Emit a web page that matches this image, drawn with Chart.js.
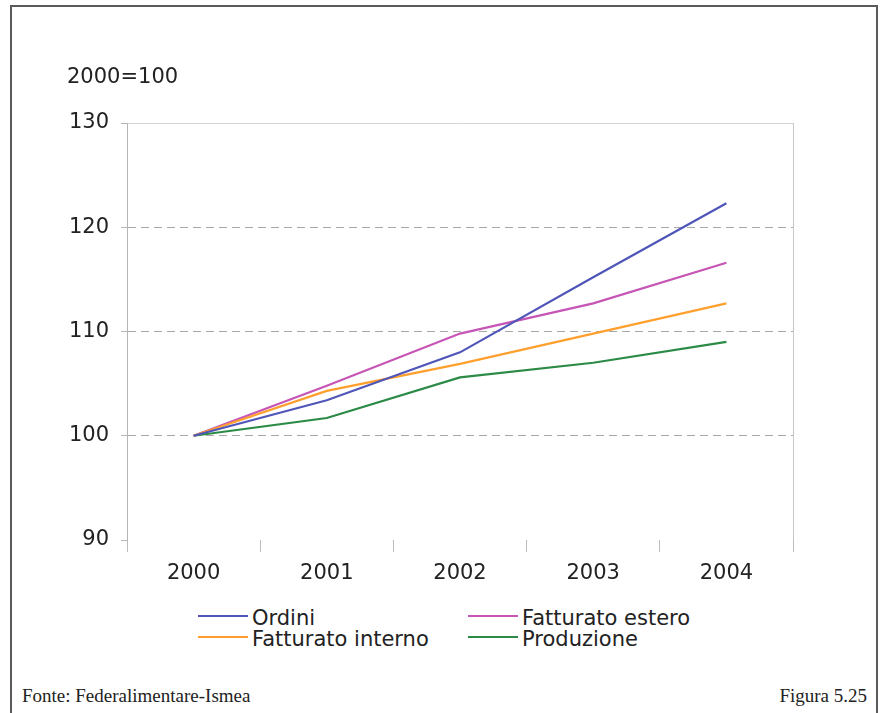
<!DOCTYPE html>
<html>
<head>
<meta charset="utf-8">
<script src="https://cdn.jsdelivr.net/npm/chart.js@4/dist/chart.umd.min.js"></script>
<style>
  body { margin: 0; background: #fff; }
  #wrap { position: relative; width: 885px; height: 713px; overflow: hidden; }
  #frame {
    position: absolute; left: 10px; top: 5px; width: 864px; height: 760px;
    border: 2px solid #5a5a5a; border-bottom: none;
  }
  #chart { position: absolute; left: 0; top: 0; }
  .unit {
    position: absolute; left: 67px; top: 64px;
    font: 21px "DejaVu Sans", sans-serif; color: #222;
  }
  .leg {
    position: absolute; font: 21px "DejaVu Sans", sans-serif; color: #222;
    line-height: 22px; white-space: nowrap;
  }
  .leg span.sw {
    position: absolute; left: 0; top: 8px; width: 50px; height: 2px;
  }
  .leg span.tx { position: absolute; left: 54px; top: 0; }
  .foot {
    position: absolute; top: 685px;
    font: 19px "Liberation Serif", serif; color: #222;
  }
</style>
</head>
<body>
<div id="wrap">
  <div id="frame"></div>
  <canvas id="chart" width="885" height="600"></canvas>
  <div class="unit">2000=100</div>
  <div id="legend"></div>
  <div class="foot" style="left:22px">Fonte: Federalimentare-Ismea</div>
  <div class="foot" style="right:18px">Figura 5.25</div>
</div>
<script>
// data (index 2000=100)
const years = ['2000', '2001', '2002', '2003', '2004'];
const ordini = [100, 103.4, 108.0, 115.2, 122.3];
const fattEstero = [100, 104.8, 109.8, 112.7, 116.6];
const fattInterno = [100, 104.3, 106.9, 109.8, 112.7];
const produzione = [100, 101.7, 105.6, 107.0, 109.0];
const yTicks = [90, 100, 110, 120, 130];

const series = [
    { label: 'Ordini', data: ordini, color: '#4f56b8' },
    { label: 'Fatturato interno', data: fattInterno, color: '#ff9f2e' },
    { label: 'Fatturato estero', data: fattEstero, color: '#c655b6' },
    { label: 'Produzione', data: produzione, color: '#2b8a46' }
];

// legend, two columns like the original
const legendPos = {
    'Ordini': [198, 607],
    'Fatturato interno': [198, 628],
    'Fatturato estero': [468, 607],
    'Produzione': [468, 628]
};
const legend = document.getElementById('legend');
series.forEach(s => {
    const p = legendPos[s.label];
    const d = document.createElement('div');
    d.className = 'leg';
    d.style.left = p[0] + 'px';
    d.style.top = p[1] + 'px';
    d.innerHTML = '<span class="sw" style="background:' + s.color + '"></span><span class="tx">' + s.label + '</span>';
    legend.appendChild(d);
});

const ctx = document.getElementById('chart').getContext('2d');
new Chart(ctx, {
    type: 'line',
    data: {
        labels: years,
        datasets: series.map(s => ({
            label: s.label,
            data: s.data,
            borderColor: s.color,
            backgroundColor: s.color,
            borderWidth: 2.2,
            pointRadius: 0,
            tension: 0,
            fill: false
        }))
    },
    options: {
        responsive: false,
        animation: false,
        layout: { padding: { left: 0, right: 92, top: 123, bottom: 0 } },
        plugins: {
            legend: { display: false },
            tooltip: { enabled: false }
        },
        scales: {
            x: {
                offset: true,
                afterFit: scale => { scale.height = 60; },
                border: { display: false },
                grid: {
                    offset: true,
                    drawOnChartArea: true,
                    color: c => (c.type === 'scale' ? '#c8c8c8' : 'rgba(0,0,0,0)'),
                    tickColor: '#bdbdbd',
                    tickLength: 12,
                    lineWidth: 1
                },
                ticks: {
                    color: '#222',
                    padding: 9,
                    font: { family: 'DejaVu Sans', size: 21 }
                }
            },
            y: {
                min: 90,
                max: 130,
                afterFit: scale => { scale.width = 127; },
                afterBuildTicks: scale => { scale.ticks = yTicks.map(v => ({ value: v })); },
                border: {
                    display: true,
                    color: '#b5b5b5',
                    width: 1,
                    dash: c => (c.tick && c.tick.value < 130 ? [8, 5] : [])
                },
                grid: {
                    color: c => {
                        if (!c.tick) return '#c8c8c8';
                        if (c.tick.value === 90) return 'rgba(0,0,0,0)';
                        if (c.tick.value === 130) return '#d4d4d4';
                        return '#a8a8a8';
                    },
                    tickColor: '#b5b5b5',
                    tickLength: 6,
                    lineWidth: 1
                },
                ticks: {
                    color: '#222',
                    padding: 12,
                    font: { family: 'DejaVu Sans', size: 21 }
                }
            }
        }
    }
});
</script>
</body>
</html>
